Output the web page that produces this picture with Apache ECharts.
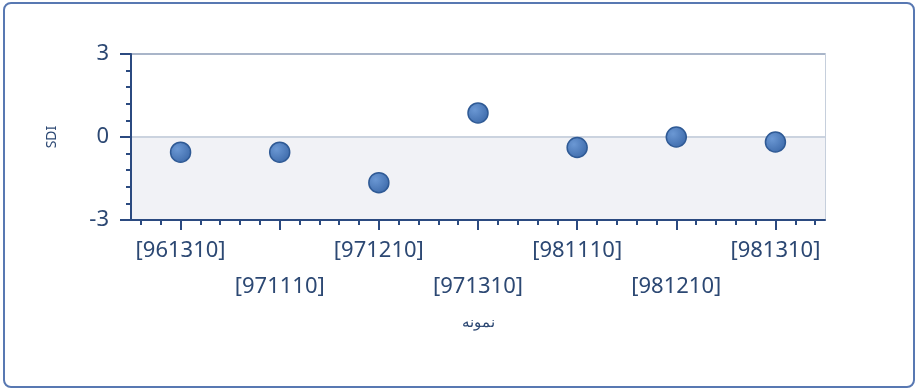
<!DOCTYPE html>
<html>
<head>
<meta charset="utf-8">
<script src="https://cdn.jsdelivr.net/npm/echarts@6/dist/echarts.min.js"></script>
<style>
  html, body { margin: 0; padding: 0; background: #fff; }
  #wrap { position: relative; width: 918px; height: 390px; }
  #chart { position: absolute; left: 0; top: 0; width: 918px; height: 390px; }
  #frame {
    position: absolute; left: 3px; top: 2px; width: 908px; height: 382px;
    border: 2px solid #5878b2; border-radius: 8px; pointer-events: none;
  }
</style>
</head>
<body>
<div id="wrap">
  <div id="chart"></div>
  <div id="frame"></div>
</div>
<script>
var categories = ['961310', '971110', '971210', '971310', '981110', '981210', '981310']
var sdiValues = [-0.55, -0.55, -1.65, 0.87, -0.38, 0.0, -0.18]
var yTicks = [-3, 0, 3]

var textColor = '#2c4873'
var axisColor = '#2b4a80'

// 5 minor slots per category, used only for the small ticks
var minorSlots = []
for (var i = 0; i < categories.length * 5; i++) {
  minorSlots.push('')
}

var chart = echarts.init(document.getElementById('chart'))
chart.setOption({
  animation: false,
  grid: {
    left: 131,
    right: 93,
    top: 54,
    bottom: 170,
    show: true,
    borderColor: '#c6cfdc',
    borderWidth: 2,
    backgroundColor: 'transparent'
  },
  xAxis: [{
    type: 'category',
    data: categories,
    name: 'نمونه',
    nameLocation: 'middle',
    nameGap: 95,
    nameTextStyle: {
      color: textColor,
      fontSize: 15,
      fontFamily: 'Noto Sans'
    },
    axisLine: {
      onZero: false,
      lineStyle: { color: axisColor, width: 2 }
    },
    axisTick: {
      show: true,
      alignWithLabel: true,
      interval: 0,
      length: 10,
      lineStyle: { color: axisColor, width: 2 }
    },
    axisLabel: {
      interval: 0,
      margin: 13,
      color: textColor,
      fontSize: 22,
      fontFamily: 'Noto Sans',
      lineHeight: 36,
      formatter: function(value, index) {
        var text = '[' + value + ']'
        return index % 2 ? '\n' + text : text
      }
    },
    splitLine: { show: false }
  }, {
    type: 'category',
    data: minorSlots,
    position: 'bottom',
    axisLine: { show: false, onZero: false },
    axisLabel: { show: false },
    axisTick: {
      show: true,
      alignWithLabel: true,
      interval: 0,
      length: 5,
      lineStyle: { color: axisColor, width: 2 }
    },
    splitLine: { show: false }
  }],
  yAxis: {
    type: 'value',
    min: yTicks[0],
    max: yTicks[yTicks.length - 1],
    interval: 3,
    name: 'SDI',
    nameLocation: 'middle',
    nameRotate: 90,
    nameGap: 72,
    nameTextStyle: {
      color: textColor,
      fontSize: 14,
      fontFamily: 'Noto Sans'
    },
    axisLine: {
      show: true,
      lineStyle: { color: axisColor, width: 2 }
    },
    axisTick: {
      show: true,
      length: 11,
      lineStyle: { color: axisColor, width: 2 }
    },
    minorTick: {
      show: true,
      splitNumber: 5,
      length: 5,
      lineStyle: { color: axisColor, width: 2 }
    },
    axisLabel: {
      margin: 22,
      color: textColor,
      fontSize: 22,
      fontFamily: 'Noto Sans'
    },
    splitLine: {
      show: true,
      lineStyle: { color: ['#c6cfdc', '#cbd3df', '#a9b5c9'], width: 2 }
    },
    splitArea: {
      show: true,
      areaStyle: { color: ['#f1f2f6', '#ffffff'] }
    }
  },
  series: [{
    type: 'scatter',
    xAxisIndex: 0,
    data: sdiValues,
    symbol: 'circle',
    symbolSize: 20,
    itemStyle: {
      color: {
        type: 'radial',
        x: 0.35,
        y: 0.35,
        r: 0.75,
        colorStops: [
          { offset: 0, color: '#6b98d4' },
          { offset: 1, color: '#3b68a8' }
        ]
      },
      borderColor: '#2f5a95',
      borderWidth: 1.5,
      opacity: 1
    }
  }]
})
</script>
</body>
</html>
